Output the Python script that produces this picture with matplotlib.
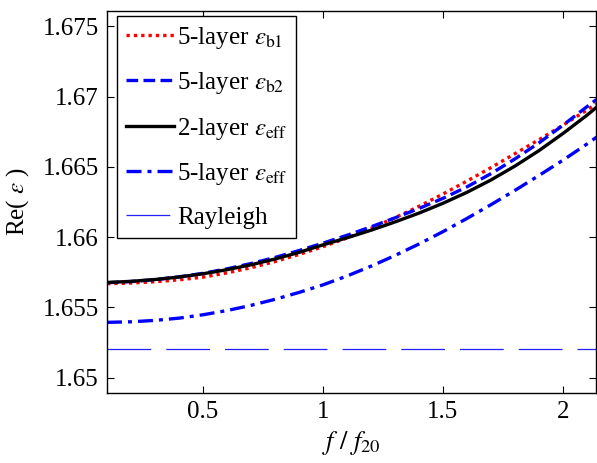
import matplotlib
matplotlib.use("Agg")
import matplotlib.pyplot as plt
import numpy as np

plt.rcParams['font.family'] = ['Liberation Serif', 'DejaVu Serif']
plt.rcParams['mathtext.fontset'] = 'stix'

# values
f_ratio = np.array([0.1, 0.2, 0.3, 0.4, 0.5, 0.6, 0.7, 0.8, 0.9, 1.0, 1.1,
                    1.2, 1.3, 1.4, 1.5, 1.6, 1.7, 1.8, 1.9, 2.0, 2.1, 2.14])
eps_b1_5layer = np.array([1.65668, 1.65673, 1.65682, 1.65696, 1.65715, 1.65745,
                          1.65782, 1.65826, 1.65876, 1.65932, 1.65994, 1.66063,
                          1.66138, 1.66219, 1.66307, 1.66399, 1.66495, 1.66594,
                          1.66694, 1.66797, 1.66905, 1.66950])
eps_b2_5layer = np.array([1.65675, 1.65684, 1.65697, 1.65717, 1.65742, 1.65774,
                          1.65812, 1.65855, 1.65904, 1.65957, 1.66013, 1.66073,
                          1.66137, 1.66204, 1.66276, 1.66358, 1.66452, 1.66557,
                          1.66671, 1.66797, 1.66929, 1.66980])
eps_eff_2layer = np.array([1.65677, 1.65685, 1.65698, 1.65716, 1.65739, 1.65768,
                           1.65803, 1.65844, 1.65891, 1.65945, 1.65995, 1.66049,
                           1.66108, 1.66171, 1.66241, 1.66319, 1.66407, 1.66506,
                           1.66616, 1.66738, 1.66868, 1.66925])
eps_eff_5layer = np.array([1.65393, 1.65397, 1.65407, 1.65423, 1.65447, 1.65477,
                           1.65514, 1.65557, 1.65606, 1.65660, 1.65723, 1.65793,
                           1.65869, 1.65951, 1.66039, 1.66133, 1.66231, 1.66333,
                           1.66439, 1.66548, 1.66663, 1.66712])
rayleigh = 1.652

labels = [r'5-layer $\varepsilon_{\rm b1}$', r'5-layer $\varepsilon_{\rm b2}$',
          r'2-layer $\varepsilon_{\rm eff}$', r'5-layer $\varepsilon_{\rm eff}$', 'Rayleigh']
yticks = [1.65, 1.655, 1.66, 1.665, 1.67, 1.675]
ytick_labels = ['1.65', '1.655', '1.66', '1.665', '1.67', '1.675']
xticks = [0.5, 1, 1.5, 2]
xtick_labels = ['0.5', '1', '1.5', '2']

fig = plt.figure(figsize=(5.97, 4.63), dpi=100)
ax = fig.add_axes([0.1792, 0.1512, 0.8191, 0.825])

ax.plot(f_ratio, eps_b1_5layer, color='red', lw=2.4, linestyle=(0, (1, 1.2)), label=labels[0])
ax.plot(f_ratio, eps_b2_5layer, color='blue', lw=2.4, linestyle=(0, (3.5, 1.6)), label=labels[1])
ax.plot(f_ratio, eps_eff_2layer, color='black', lw=2.4, label=labels[2])
ax.plot(f_ratio, eps_eff_5layer, color='blue', lw=2.4, linestyle=(0, (4.5, 1.8, 1.2, 1.8)), label=labels[3])
ax.plot([0.1, 2.14], [rayleigh, rayleigh], color='#2222ff', lw=0.9, dashes=[35, 12], label=labels[4])

ax.set_xlim(0.1, 2.1375)
ax.set_ylim(1.6489, 1.6761)
ax.set_xticks(xticks)
ax.set_xticklabels(xtick_labels)
ax.set_yticks(yticks)
ax.set_yticklabels(ytick_labels)
ax.tick_params(direction='in', top=True, right=True, labelsize=18, length=5, width=0.8, pad=6)
for s in ax.spines.values():
    s.set_linewidth(1.0)

ax.set_xlabel(r'$f\ /\ f_{20}$', fontsize=19, labelpad=4)
ax.set_ylabel(r'Re( $\varepsilon$ )', fontsize=18, labelpad=8)

leg = ax.legend(loc='upper left', bbox_to_anchor=(0.02, 0.987), fontsize=18,
                handlelength=1.95, handletextpad=0.12, labelspacing=0.78,
                borderpad=0.35, borderaxespad=0, fancybox=False, framealpha=1)
leg.get_frame().set_edgecolor('black')
leg.get_frame().set_linewidth(1.0)

fig.savefig('out.png', dpi=100)
